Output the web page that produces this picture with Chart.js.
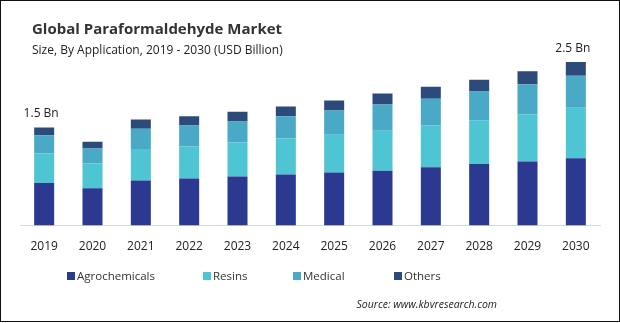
<!DOCTYPE html>
<html>
<head>
<meta charset="utf-8">
<script src="https://cdn.jsdelivr.net/npm/chart.js@4"></script>
<style>
  html, body { margin: 0; padding: 0; background: #fff; }
  canvas { display: block; }
</style>
</head>
<body>
<canvas id="chart" width="620" height="323"></canvas>
<script>
const years = ['2019', '2020', '2021', '2022', '2023', '2024', '2025', '2026', '2027', '2028', '2029', '2030'];

const agrochemicals = [0.65, 0.57, 0.69, 0.72, 0.75, 0.78, 0.81, 0.84, 0.89, 0.94, 0.98, 1.03];
const resins        = [0.45, 0.38, 0.48, 0.49, 0.52, 0.55, 0.58, 0.61, 0.64, 0.67, 0.72, 0.77];
const medical       = [0.28, 0.23, 0.31, 0.32, 0.32, 0.34, 0.37, 0.40, 0.41, 0.44, 0.46, 0.49];
const others        = [0.12, 0.10, 0.14, 0.14, 0.15, 0.15, 0.15, 0.17, 0.18, 0.18, 0.20, 0.21];

const seriesNames  = ['Agrochemicals', 'Resins', 'Medical', 'Others'];
const seriesColors = ['#2b3990', '#4fc4d2', '#49a9c6', '#2c4b7a'];

// totals shown above the first and last bars
const totalLabels = { 0: '1.5 Bn', 11: '2.5 Bn' };

const FONT = '"Open Sans", sans-serif';

const chrome = {
    id: 'chrome',
    afterDraw(chart) {
        const ctx = chart.ctx;
        ctx.save();

        // frame
        ctx.strokeStyle = '#111';
        ctx.lineWidth = 1;
        ctx.strokeRect(0.5, 0.5, 619, 321);

        // heading
        ctx.fillStyle = '#333';
        ctx.textAlign = 'left';
        ctx.textBaseline = 'alphabetic';
        ctx.font = 'bold 15px ' + FONT;
        ctx.fillText('Global Paraformaldehyde Market', 32, 34);
        ctx.fillStyle = '#222';
        ctx.font = '12px ' + FONT;
        ctx.fillText('Size, By Application, 2019 - 2030 (USD Billion)', 32, 54);

        // totals
        const top = chart.getDatasetMeta(chart.data.datasets.length - 1);
        ctx.font = '12px ' + FONT;
        ctx.textAlign = 'center';
        ctx.fillStyle = '#222';
        Object.keys(totalLabels).forEach(i => {
            const bar = top.data[i];
            ctx.fillText(totalLabels[i], bar.x - 3, bar.y - 10);
        });

        // legend
        const legendX = [67, 203, 293, 394];
        ctx.font = '11.5px ' + FONT;
        ctx.textAlign = 'left';
        chart.data.datasets.forEach((ds, i) => {
            ctx.fillStyle = ds.backgroundColor;
            ctx.fillRect(legendX[i], 272, 8, 8);
            ctx.fillStyle = '#333';
            ctx.fillText(ds.label, legendX[i] + 10, 280);
        });

        // source
        ctx.font = 'italic 10.5px ' + FONT;
        ctx.textAlign = 'right';
        ctx.fillStyle = '#222';
        ctx.fillText('Source: www.kbvresearch.com', 497, 308);

        ctx.restore();
    },
};

new Chart('chart', {
    type: 'bar',
    data: {
        labels: years,
        datasets: [agrochemicals, resins, medical, others].map((values, i) => ({
            label: seriesNames[i],
            data: values,
            backgroundColor: seriesColors[i],
            barPercentage: 0.414,
            categoryPercentage: 1,
        })),
    },
    options: {
        responsive: false,
        animation: false,
        devicePixelRatio: 1,
        layout: {
            padding: { top: 62, left: 20, right: 20, bottom: 55 },
        },
        plugins: {
            legend: { display: false },
            tooltip: { enabled: false },
        },
        scales: {
            x: {
                stacked: true,
                grid: { display: false, drawTicks: false },
                border: { color: '#d9d9d9' },
                ticks: {
                    color: '#222',
                    padding: 14,
                    font: { family: FONT, size: 12 },
                },
            },
            y: {
                stacked: true,
                display: false,
                min: 0,
                max: 2.5,
            },
        },
    },
    plugins: [chrome],
});
</script>
</body>
</html>
